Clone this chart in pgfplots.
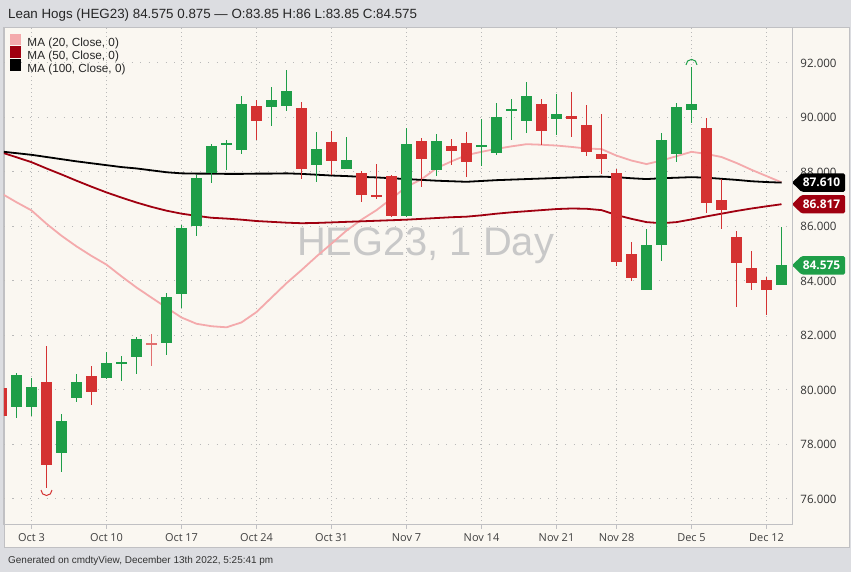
\documentclass[border=0pt]{standalone}
\usepackage{pgfplots}
\pgfplotsset{compat=1.18}
\usepackage{pgfplotstable}
\usepackage{fontspec}
\setmainfont{Liberation Sans}
\newfontfamily\tickfont{Open Sans}
\pgfdeclarelayer{background}
\pgfsetlayers{background,main}
\definecolor{outer}{RGB}{220,221,225}
\definecolor{panel}{RGB}{250,247,241}
\definecolor{frame}{RGB}{192,192,195}
\definecolor{cgreen}{RGB}{30,158,72}
\definecolor{cred}{RGB}{212,50,50}
\definecolor{cneutral}{RGB}{226,112,112}
\definecolor{ma20}{RGB}{244,170,172}
\definecolor{ma50}{RGB}{160,0,16}
\definecolor{gridc}{RGB}{185,185,185}
\definecolor{wm}{RGB}{200,200,200}

\pgfplotstableread{
i o h l c
-1 79.39 80.61 78.98 80.55
0 79.39 80.43 79.05 80.10
2 77.68 79.12 76.98 78.87
3 79.72 80.59 79.57 80.28
5 80.45 81.38 80.40 80.98
6 80.94 81.25 80.33 81.04
7 81.22 81.93 80.58 81.86
9 81.74 83.56 81.28 83.40
10 83.53 86.06 83.00 85.96
11 86.02 87.89 85.65 87.79
12 87.95 89.02 87.59 88.97
13 88.99 89.17 88.07 89.08
14 88.81 90.79 88.65 90.50
16 90.40 91.11 89.69 90.64
17 90.42 91.74 90.25 90.97
19 88.27 89.46 87.62 88.83
21 88.12 89.30 88.12 88.44
25 86.39 89.63 86.36 89.02
27 88.07 89.39 87.85 89.13
30 88.91 89.93 88.22 88.98
31 88.69 90.54 88.62 90.03
32 90.25 90.68 89.17 90.32
33 89.87 91.30 89.44 90.79
35 89.94 90.85 89.36 90.14
41 83.67 85.91 83.67 85.32
42 85.31 89.42 84.73 89.17
43 88.66 90.52 88.36 90.40
44 90.28 91.86 89.79 90.50
50 83.85 86.00 83.85 84.575
}\greentab

\pgfplotstableread{
i o h l c
-2 80.07 80.30 78.90 79.05
1 80.30 81.61 76.40 77.25
4 80.52 80.89 79.45 79.92
15 90.42 90.64 89.17 89.87
18 90.34 90.56 87.74 88.11
20 89.10 89.52 87.89 88.40
22 87.95 88.04 86.91 87.16
23 87.16 88.29 87.00 87.10
24 87.85 87.89 86.36 86.39
26 89.13 89.24 87.46 88.47
28 88.97 89.20 88.26 88.77
29 89.08 89.48 87.81 88.36
34 90.48 90.68 88.99 89.50
36 90.06 90.94 89.30 89.94
37 89.72 90.46 88.59 88.74
38 88.65 90.12 87.92 88.47
39 87.97 88.12 84.55 84.71
40 84.98 85.43 84.01 84.10
45 89.60 89.97 86.48 86.85
46 86.97 87.73 85.90 86.61
47 85.60 85.85 83.06 84.65
48 84.47 85.11 83.67 83.94
49 84.04 84.14 82.75 83.67
}\redtab

\pgfplotstableread{
i o h l c
8 81.72 82.04 80.88 81.67
}\neutraltab

\pgfplotstableread{
i m20 m50 m100
-2 87.21 88.72 88.75
-1 86.89 88.54 88.69
0 86.59 88.36 88.63
1 86.10 88.13 88.55
2 85.66 87.91 88.47
3 85.27 87.68 88.39
4 84.92 87.46 88.32
5 84.60 87.25 88.25
6 84.17 87.06 88.18
7 83.76 86.88 88.13
8 83.39 86.72 88.06
9 83.02 86.58 87.99
10 82.66 86.47 87.95
11 82.43 86.39 87.94
12 82.34 86.32 87.94
13 82.30 86.29 87.93
14 82.48 86.25 87.93
15 82.86 86.20 87.94
16 83.39 86.17 87.94
17 83.92 86.14 87.95
18 84.40 86.12 87.93
19 84.90 86.13 87.90
20 85.37 86.15 87.87
21 85.85 86.17 87.85
22 86.25 86.19 87.82
23 86.60 86.21 87.80
24 87.02 86.23 87.77
25 87.46 86.25 87.74
26 87.73 86.28 87.71
27 88.14 86.31 87.68
28 88.39 86.34 87.66
29 88.62 86.36 87.64
30 88.74 86.41 87.67
31 88.85 86.47 87.70
32 88.94 86.52 87.72
33 89.02 86.56 87.74
34 89.00 86.60 87.76
35 88.97 86.64 87.78
36 88.92 86.66 87.80
37 88.86 86.65 87.82
38 88.84 86.60 87.83
39 88.60 86.42 87.81
40 88.42 86.28 87.77
41 88.29 86.16 87.74
42 88.42 86.12 87.77
43 88.58 86.16 87.79
44 88.74 86.26 87.81
45 88.66 86.37 87.79
46 88.55 86.47 87.75
47 88.33 86.57 87.71
48 88.08 86.66 87.66
49 87.85 86.74 87.63
50 87.62 86.817 87.61
}\matab

\pgfdeclareplotmark{archigh}{\pgfpathmoveto{\pgfpoint{-5.5bp}{0bp}}\pgfpatharc{180}{0}{5.5bp}\pgfusepathqstroke}
\pgfdeclareplotmark{arclow}{\pgfpathmoveto{\pgfpoint{-5.5bp}{0bp}}\pgfpatharc{180}{360}{5.5bp}\pgfusepathqstroke}

\pgfplotsset{
  candle/.style={forget plot, only marks, mark=*, mark size=0pt, mark options={draw=none, fill=none},
    error bars/.cd, y dir=both, y explicit, error mark=none,
    error bar style={draw=#1, line width=1bp}},
  body/.style={forget plot, only marks, mark=*, mark size=0pt, mark options={draw=none, fill=none},
    error bars/.cd, y dir=both, y explicit, error mark=none,
    error bar style={draw=#1, line width=11bp}},
}

\begin{document}
\begin{tikzpicture}[x=1bp,y=1bp]
\begin{axis}[
  name=ax, scale only axis,
  width=788bp, height=497bp,
  xmin=-1.8333, xmax=50.7, ymin=75.046, ymax=93.284,
  axis line style={draw=frame, line width=1bp},
  xtick={0,5,10,15,20,25,30,35,39,44,49},
  xticklabels={Oct 3,Oct 10,Oct 17,Oct 24,Oct 31,Nov 7,Nov 14,Nov 21,Nov 28,Dec 5,Dec 12},
  ytick={76,78,...,92},
  xtick pos=lower, ytick pos=right, yticklabel pos=right,
  tick align=outside, major tick length=4bp,
  xtick style={draw=frame, line width=0.8bp},
  ytick style={draw=none},
  xmajorgrids, ymajorgrids,
  x grid style={gridc, line width=0.8bp, dash pattern=on 1bp off 3bp},
  y grid style={gridc, line width=1bp, dash pattern=on 1.2bp off 7.3bp},
  xticklabel style={font=\tickfont\fontsize{11}{13}\selectfont, text=black!75, yshift=-1bp},
  yticklabel style={font=\tickfont\fontsize{11.6}{13}\selectfont, text=black!80, anchor=center, xshift=22.5bp,
    /pgf/number format/.cd, fixed, fixed zerofill, precision=3, 1000 sep={}, assume math mode=true},
  legend style={at={(axis description cs:0.0076,0.989)}, anchor=north west, draw=none, fill=none,
    inner sep=0pt, row sep=-3.6bp, font=\fontsize{11.8}{13}\selectfont, text=black!85},
  legend image code/.code={\fill[#1] (0bp,-1bp) rectangle (9.5bp,8.5bp);},
  legend cell align=left,
]
\node[anchor=base, font=\fontsize{40}{44}\selectfont, text=wm] at (axis cs:26.27,84.95) {HEG23, 1 Day};

\addplot[color=ma20, line width=1.8bp] table[x=i, y=m20] {\matab};
\addlegendentry{\hspace{4bp}MA (20, Close, 0)}
\addplot[color=ma50, line width=1.8bp] table[x=i, y=m50] {\matab};
\addlegendentry{\hspace{4bp}MA (50, Close, 0)}
\addplot[color=black, line width=1.8bp] table[x=i, y=m100] {\matab};
\addlegendentry{\hspace{4bp}MA (100, Close, 0)}

% wicks
\addplot[candle=cgreen] table[x=i, y expr={(\thisrow{h}+\thisrow{l})/2}, y error expr={(\thisrow{h}-\thisrow{l})/2}] {\greentab};
\addplot[candle=cred] table[x=i, y expr={(\thisrow{h}+\thisrow{l})/2}, y error expr={(\thisrow{h}-\thisrow{l})/2}] {\redtab};
\addplot[candle=cneutral] table[x=i, y expr={(\thisrow{h}+\thisrow{l})/2}, y error expr={(\thisrow{h}-\thisrow{l})/2}] {\neutraltab};
% bodies
\addplot[body=cgreen] table[x=i, y expr={(\thisrow{o}+\thisrow{c})/2}, y error expr={max(abs(\thisrow{c}-\thisrow{o})/2,0.04)}] {\greentab};
\addplot[body=cred] table[x=i, y expr={(\thisrow{o}+\thisrow{c})/2}, y error expr={max(abs(\thisrow{c}-\thisrow{o})/2,0.04)}] {\redtab};
\addplot[body=cneutral] table[x=i, y expr={(\thisrow{o}+\thisrow{c})/2}, y error expr={max(abs(\thisrow{c}-\thisrow{o})/2,0.04)}] {\neutraltab};

% highest high / lowest low markers
\addplot[forget plot, only marks, mark=archigh, mark options={draw=cgreen, line width=1bp}] coordinates {(44,91.93)};
\addplot[forget plot, only marks, mark=arclow, mark options={draw=cred, line width=1bp}] coordinates {(1,76.33)};

\coordinate (SW) at (rel axis cs:0,0);
\coordinate (SE) at (rel axis cs:1,0);
\coordinate (pA) at (axis cs:50,87.61);
\coordinate (pB) at (axis cs:50,86.817);
\coordinate (pC) at (axis cs:50,84.575);
\end{axis}

\begin{pgfonlayer}{background}
\begin{scope}[shift={(SW)}, shift={(-4,-47)}]
\fill[outer] (0,0) rectangle (851,572);
\fill[panel] (4,24) rectangle (849,544);
\draw[frame, line width=1bp] (4,24) rectangle (849,544);
\end{scope}
\end{pgfonlayer}
\begin{scope}[shift={(SW)}, shift={(-4,-47)}]
\node[anchor=base west, inner sep=0, font=\fontsize{13.4}{15}\selectfont, text=black!85] at (8,553.5) {Lean Hogs (HEG23) 84.575 0.875 — O:83.85 H:86 L:83.85 C:84.575};
\node[anchor=base west, inner sep=0, font=\fontsize{10}{12}\selectfont, text=black!80] at (8,8) {Generated on cmdtyView, December 13th 2022, 5:25:41 pm};
\end{scope}

\foreach \p/\col/\txt in {pA/black/87.610, pB/ma50/86.817, pC/cgreen/84.575} {
  \begin{scope}[shift={(SE |- \p)}]
    \fill[\col, rounded corners=1.5bp] (0,0) -- (9.5,9.2) -- (53,9.2) -- (53,-9.2) -- (9.5,-9.2) -- cycle;
    \node[text=white, font=\tickfont\bfseries\fontsize{12}{14}\selectfont, inner sep=0] at (29.5,0) {\txt};
  \end{scope}
}

\pgfresetboundingbox
\begin{scope}[shift={(SW)}, shift={(-4,-47)}]
\path[use as bounding box] (0,0) rectangle (851,572);
\end{scope}
\end{tikzpicture}
\end{document}
